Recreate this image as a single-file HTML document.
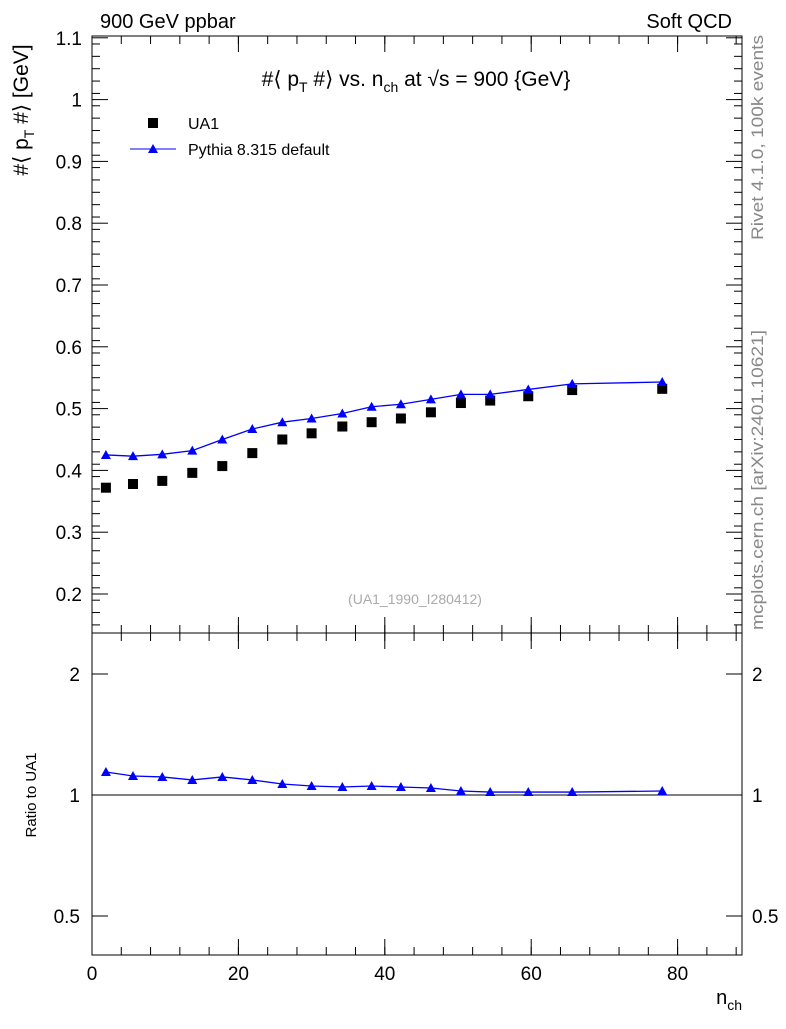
<!DOCTYPE html>
<html><head><meta charset="utf-8"><style>
body{margin:0;background:#fff;width:786px;height:1024px;overflow:hidden}
svg text{font-family:"Liberation Sans",sans-serif}
</style></head><body>
<svg id="c" width="786" height="1024">
<text x="100" y="28" font-size="20">900 GeV ppbar</text>
<text x="732" y="28" font-size="20" text-anchor="end">Soft QCD</text>
<rect x="92" y="36" width="650" height="597" fill="none" stroke="#000"/>
<rect x="92" y="633" width="650" height="322" fill="none" stroke="#000"/>
<text x="416" y="86" font-size="21" text-anchor="middle">#⟨ p<tspan font-size="14" dy="6">T</tspan><tspan dy="-6"> #⟩ vs. n</tspan><tspan font-size="14" dy="6">ch</tspan><tspan dy="-6"> at √s = 900 {GeV}</tspan></text>
<text transform="translate(28,110) rotate(-90)" font-size="21" text-anchor="middle">#⟨ p<tspan font-size="14" dy="6">T</tspan><tspan dy="-6"> #⟩ [GeV]</tspan></text>
<text transform="translate(36,795) rotate(-90)" font-size="15" text-anchor="middle">Ratio to UA1</text>
<text x="742" y="1004" font-size="20" text-anchor="end">n<tspan font-size="14" dy="6">ch</tspan></text>
<text transform="translate(763,240) rotate(-90)" font-size="17" fill="#888" textLength="205" lengthAdjust="spacingAndGlyphs">Rivet 4.1.0,  100k events</text>
<text transform="translate(763,630) rotate(-90)" font-size="17" fill="#888" textLength="300" lengthAdjust="spacingAndGlyphs">mcplots.cern.ch [arXiv:2401.10621]</text>
<text x="415" y="604" font-size="14" fill="#aaa" text-anchor="middle">(UA1_1990_I280412)</text>
<rect x="148" y="118" width="10" height="10" fill="#000"/>
<text x="188" y="129" font-size="16">UA1</text>
<line x1="130" y1="149" x2="176" y2="149" stroke="#00f"/>
<polygon points="153,144 158,153 148,153" fill="#00f"/>
<text x="188" y="155" font-size="16">Pythia 8.315 default</text>
<g id="g"></g>
</svg>
<script>
const xs=[1.9,5.6,9.6,13.7,17.8,21.9,26,30,34.2,38.2,42.2,46.3,50.4,54.4,59.6,65.6,77.9];
const ua1=[0.372,0.378,0.383,0.396,0.407,0.428,0.450,0.460,0.471,0.478,0.484,0.494,0.509,0.513,0.520,0.530,0.532];
const pythia=[0.425,0.423,0.426,0.432,0.450,0.467,0.478,0.484,0.492,0.503,0.507,0.515,0.523,0.523,0.531,0.540,0.543];
const ratio=[1.141,1.115,1.109,1.090,1.109,1.090,1.065,1.053,1.047,1.053,1.047,1.041,1.023,1.017,1.017,1.017,1.023];
const yTicks=[0.2,0.3,0.4,0.5,0.6,0.7,0.8,0.9,1,1.1];
const xTicks=[0,20,40,60,80];
const rTicks=[0.5,1,2];
const NS="http://www.w3.org/2000/svg",g=document.getElementById('g');
const X=v=>92+v*7.32, Y=v=>594-(v-0.2)*618, R=v=>795-Math.log2(v)*121;
function el(t,a){const e=document.createElementNS(NS,t);for(const k in a)e.setAttribute(k,a[k]);g.appendChild(e);return e;}
yTicks.forEach(v=>{const y=Y(v);
 let l=el('line',{x1:92,y1:y,x2:108,y2:y,stroke:'#000'});
 
 
 l=el('line',{x1:726,y1:y,x2:742,y2:y,stroke:'#000'});
 
 
 const t=el('text',{x:82,y:y+7,'font-size':19,'text-anchor':'end'});t.textContent=String(v);
 
 
});
for(let v=0.15;v<1.1;v+=0.02){const y=Y(v);if(y>633||y<36)continue;
 el('line',{x1:92,y1:y,x2:100,y2:y,stroke:'#000'});el('line',{x1:734,y1:y,x2:742,y2:y,stroke:'#000'});}
xTicks.forEach(v=>{const x=X(v);
 [[633,617],[36,52],[955,939],[633,649]].forEach(p=>el('line',{x1:x,y1:p[0],x2:x,y2:p[1],stroke:'#000'}));
 const t=el('text',{x:x,y:980,'font-size':19,'text-anchor':'middle'});t.textContent=String(v);
 
 
});
for(let v=0;v<=88;v+=4){const x=X(v);[[633,625],[36,44],[955,947],[633,641]].forEach(p=>el('line',{x1:x,y1:p[0],x2:x,y2:p[1],stroke:'#000'}));}
rTicks.forEach(v=>{const y=R(v);
 el('line',{x1:92,y1:y,x2:108,y2:y,stroke:'#000'});el('line',{x1:726,y1:y,x2:742,y2:y,stroke:'#000'});
 const t=el('text',{x:80,y:y+7,'font-size':19,'text-anchor':'end'});t.textContent=String(v);
 
 
 const t2=el('text',{x:752,y:y+7,'font-size':19});t2.textContent=String(v);
 
 
});
let l1=el('line',{x1:92,y1:R(1),x2:742,y2:R(1),stroke:'#000'});


let pl=el('polyline',{points:xs.map((x,i)=>X(x)+','+Y(pythia[i])).join(' '),fill:'none',stroke:'#00f','stroke-width':1.3});


let rl=el('polyline',{points:xs.map((x,i)=>X(x)+','+R(ratio[i])).join(' '),fill:'none',stroke:'#00f','stroke-width':1.3});


xs.forEach((x,i)=>{const cx=X(x);
 let s=el('rect',{x:cx-5,y:Y(ua1[i])-5,width:10,height:10,fill:'#000'});
 
 
 let y=Y(pythia[i]);
 let p=el('polygon',{points:`${cx},${y-5} ${cx+5},${y+4} ${cx-5},${y+4}`,fill:'#00f'});
 
 
 y=R(ratio[i]);
 p=el('polygon',{points:`${cx},${y-5} ${cx+5},${y+4} ${cx-5},${y+4}`,fill:'#00f'});
 
 
});
</script>
</body></html>
